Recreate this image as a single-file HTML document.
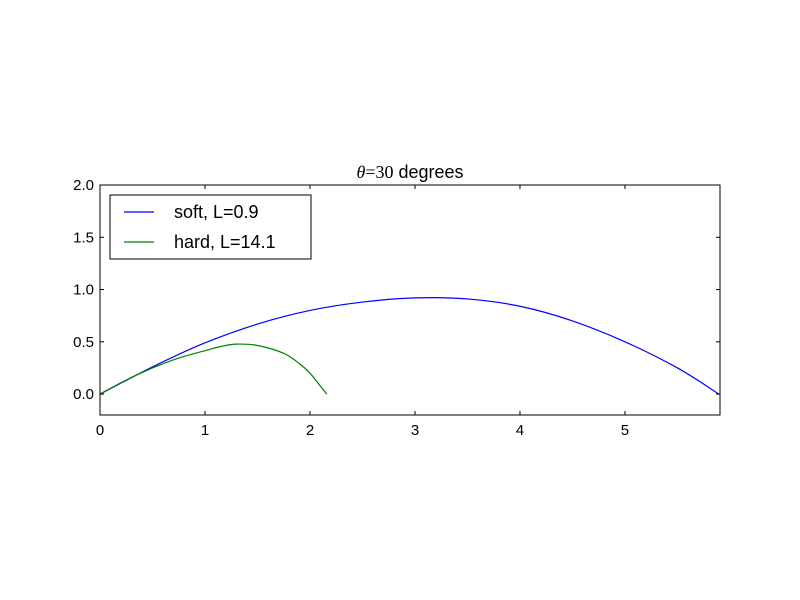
<!DOCTYPE html>
<html><head><meta charset="utf-8"><style>
body{margin:0;background:#fff}
svg{display:block;font-family:"Liberation Sans","DejaVu Sans",sans-serif}
</style></head><body>
<svg id="chart" width="800" height="600">
<rect width="800" height="600" fill="#fff"/>
<g id="axes"></g>
</svg>
<script>
const xTicks=[0,1,2,3,4,5];
const yTicks=[0.0,0.5,1.0,1.5,2.0];
const yTickLabels=["0.0","0.5","1.0","1.5","2.0"];
const softX=[0,0.5,1.0,1.5,2.0,2.5,3.0,3.5,4.0,4.5,5.0,5.5,5.895];
const softY=[0,0.26,0.49,0.67,0.80,0.88,0.92,0.91,0.84,0.70,0.50,0.25,0];
const hardX=[0,0.25,0.5,0.75,1.0,1.15,1.3,1.5,1.75,1.9,2.0,2.1,2.16];
const hardY=[0,0.135,0.25,0.345,0.415,0.455,0.478,0.465,0.39,0.29,0.2,0.075,0];
const L=100,R=720,T=185,B=415,XMIN=0,XMAX=5.905,YMIN=-0.2,YMAX=2.0;
const sx=v=>L+(v-XMIN)/(XMAX-XMIN)*(R-L);
const sy=v=>B-(v-YMIN)/(YMAX-YMIN)*(B-T);
const NS="http://www.w3.org/2000/svg";
const g=document.getElementById('axes');
function mk(tag,attrs,parent){const e=document.createElementNS(NS,tag);for(const k in attrs)e.setAttribute(k,attrs[k]);(parent||g).appendChild(e);return e;}
function smooth(xs,ys){const p=xs.map((x,i)=>[sx(x),sy(ys[i])]);let d=`M${p[0][0]},${p[0][1]}`;
for(let i=0;i<p.length-1;i++){const p0=p[i-1]||p[i],p1=p[i],p2=p[i+1],p3=p[i+2]||p2;
d+=` C${p1[0]+(p2[0]-p0[0])/6},${p1[1]+(p2[1]-p0[1])/6} ${p2[0]-(p3[0]-p1[0])/6},${p2[1]-(p3[1]-p1[1])/6} ${p2[0]},${p2[1]}`;}return d;}
let e;
e=mk('path',{d:smooth(softX,softY),fill:'none',stroke:'#0000ff','stroke-width':1.2});


e=mk('path',{d:smooth(hardX,hardY),fill:'none',stroke:'#008000','stroke-width':1.2});


e=mk('rect',{x:L,y:T,width:R-L,height:B-T,fill:'none',stroke:'#000','stroke-width':1});


xTicks.forEach(v=>{const x=sx(v);
mk('line',{x1:x,x2:x,y1:B,y2:B-4,stroke:'#000'});mk('line',{x1:x,x2:x,y1:T,y2:T+4,stroke:'#000'});
e=mk('text',{x:x,y:B+20,'text-anchor':'middle','font-size':15});e.textContent=v;

});
yTicks.forEach((v,i)=>{const y=sy(v);
mk('line',{x1:L,x2:L+4,y1:y,y2:y,stroke:'#000'});mk('line',{x1:R,x2:R-4,y1:y,y2:y,stroke:'#000'});
e=mk('text',{x:L-6,y:y+5,'text-anchor':'end','font-size':15});e.textContent=yTickLabels[i];

});
e=mk('text',{x:410,y:178,'text-anchor':'middle','font-size':18});
e.innerHTML='<tspan font-family="Liberation Serif,serif" font-style="italic">θ</tspan><tspan font-family="Liberation Serif,serif">=30</tspan> degrees';


const lg=mk('g',{});


mk('rect',{x:110,y:195,width:201,height:64,fill:'#fff',stroke:'#000'},lg);
mk('line',{x1:124,x2:154,y1:212,y2:212,stroke:'#0000ff','stroke-width':1.2},lg);
e=mk('text',{x:174,y:218,'font-size':18},lg);e.textContent='soft, L=0.9';


mk('line',{x1:124,x2:154,y1:242,y2:242,stroke:'#008000','stroke-width':1.2},lg);
e=mk('text',{x:174,y:248,'font-size':18},lg);e.textContent='hard, L=14.1';


</script>
</body></html>
